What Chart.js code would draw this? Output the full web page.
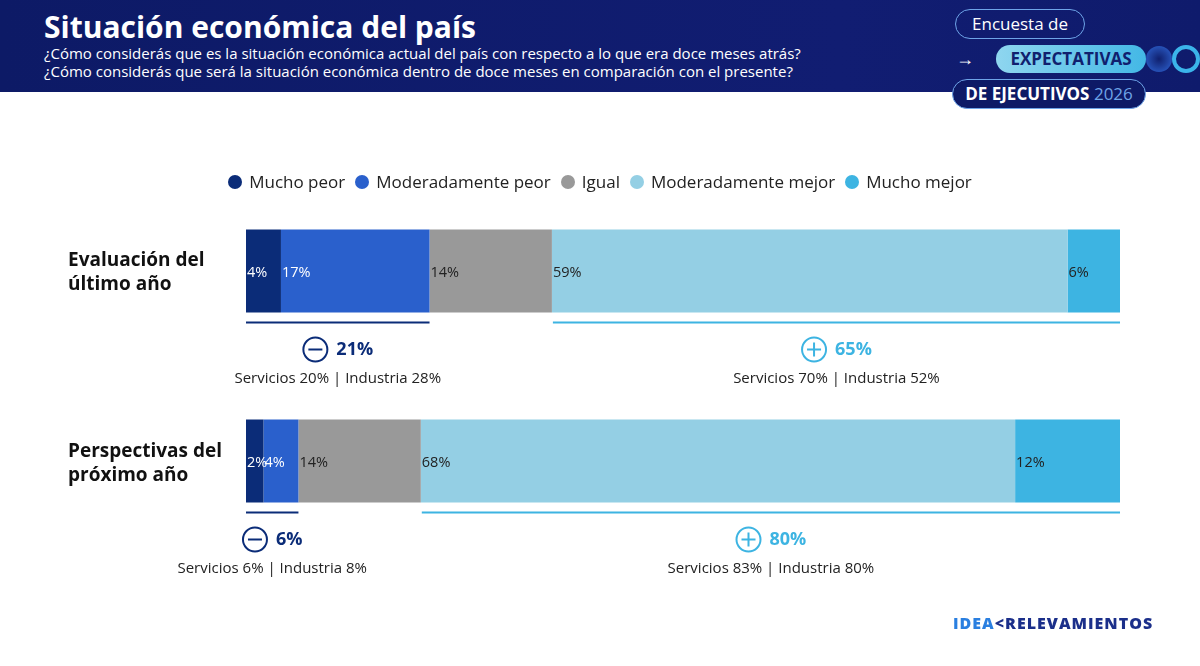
<!DOCTYPE html>
<html><head><meta charset="utf-8">
<script src="https://cdn.jsdelivr.net/npm/chart.js@4"></script>
<style>
body{margin:0;width:1200px;height:666px;overflow:hidden;font-family:"Open Sans",sans-serif;background:#fff;position:relative}
#hdr{position:absolute;left:0;top:0;width:1200px;height:92px;background:linear-gradient(90deg,#0d1a66,#111d72 70%,#0f1b6c);color:#fff}
#hdr h1{position:absolute;left:44px;top:6px;margin:0;font-size:30px;font-weight:700}
#hdr .q{position:absolute;left:44px;font-size:15px}
.pill{position:absolute;border-radius:16px;font-weight:700;text-align:center}
#legend{position:absolute;top:170px;left:0;width:1200px;text-align:center;font-size:17px;color:#222}
#legend span{margin:0 5px;display:inline-flex;align-items:center}
#legend i{display:inline-block;width:14px;height:14px;border-radius:50%;margin-right:7px}
.rl{position:absolute;left:68px;font-size:19px;font-weight:700;color:#111;line-height:24px}
canvas{position:absolute;left:0;top:0}
</style></head><body>
<div id="hdr">
<h1>Situación económica del país</h1>
<div class="q" style="top:43px">¿Cómo considerás que es la situación económica actual del país con respecto a lo que era doce meses atrás?</div>
<div class="q" style="top:61px">¿Cómo considerás que será la situación económica dentro de doce meses en comparación con el presente?</div>
<div class="pill" style="left:955px;top:9px;width:128px;height:28px;border:1.5px solid #6ea4e8;font-weight:400;font-size:17px;line-height:28px">Encuesta de</div>
<div style="position:absolute;left:956px;top:46px;font-size:18px">→</div>
<div class="pill" style="left:996px;top:45px;width:150px;height:28px;background:linear-gradient(90deg,#8fd6ef,#43b8e6);color:#10206e;font-size:17px;line-height:28px">EXPECTATIVAS</div>
<div style="position:absolute;left:1146px;top:46px;width:26px;height:26px;border-radius:50%;background:radial-gradient(#10206e,#2f66d6)"></div>
<div style="position:absolute;left:1172px;top:45px;width:20px;height:20px;border-radius:50%;border:4px solid #3bb4ea"></div>
<div class="pill" style="left:952px;top:79px;width:192px;height:28px;border:1.5px solid #6ea4e8;background:#0e1a66;font-size:17px;line-height:28px">DE EJECUTIVOS <span style="color:#6ea4e8;font-weight:400">2026</span></div>
</div>
<canvas id="c" width="1200" height="666"></canvas>
<div id="legend"></div>
<div class="rl" style="top:247px">Evaluación del<br>último año</div>
<div class="rl" style="top:438px">Perspectivas del<br>próximo año</div>
<div style="position:absolute;left:953px;top:612px;font-size:16px;font-weight:900;letter-spacing:1px;color:#1b2f8a"><span style="color:#2a7fe0">IDEA</span>&lt;RELEVAMIENTOS</div>
<script>
const categories=["Evaluación del último año","Perspectivas del próximo año"];
const seriesNames=["Mucho peor","Moderadamente peor","Igual","Moderadamente mejor","Mucho mejor"];
const muchoPeor=[4,2];
const moderadamentePeor=[17,4];
const igual=[14,14];
const moderadamenteMejor=[59,68];
const muchoMejor=[6,12];
const negTotal=[21,6];
const posTotal=[65,80];
const negSub=["Servicios 20% | Industria 28%","Servicios 6% | Industria 8%"];
const posSub=["Servicios 70% | Industria 52%","Servicios 83% | Industria 80%"];
const colors=["#0b2c78","#2a60cc","#999999","#94cfe4","#3db4e2"];
const txtColors=["#fff","#fff","#222","#222","#222"];
const vals=[muchoPeor,moderadamentePeor,igual,moderadamenteMejor,muchoMejor];
document.getElementById('legend').innerHTML=seriesNames.map((n,i)=>`<span><i style="background:${colors[i]}"></i>${n}</span>`).join('');
const plug={id:'lab',afterDatasetsDraw(ch){
 const ctx=ch.ctx,xs=ch.scales.x;
 ctx.save();ctx.font='14.5px "Open Sans"';ctx.textBaseline='middle';
 ch.data.datasets.forEach((d,di)=>{ch.getDatasetMeta(di).data.forEach((b,i)=>{
  ctx.fillStyle=txtColors[di];ctx.textAlign='left';
  ctx.fillText(d.data[i]+'%',Math.min(b.base,b.x)+1,b.y+2);});});
 ch.getDatasetMeta(0).data.forEach((b,i)=>{
  const bot=b.y+b.height/2;
  const n1=xs.getPixelForValue(0),n2=xs.getPixelForValue(muchoPeor[i]+moderadamentePeor[i]);
  const p1=xs.getPixelForValue(100-posTotal[i]),p2=xs.getPixelForValue(100);
  const grp=[[n1,n2,'#0b2c78',negTotal[i],negSub[i],'−'],[p1+1,p2,'#3db4e2',posTotal[i],posSub[i],'+']];
  grp.forEach(([a,c,col,t,s,sg])=>{
   ctx.strokeStyle=col;ctx.lineWidth=2;ctx.beginPath();ctx.moveTo(a,bot+10);ctx.lineTo(c,bot+10);ctx.stroke();
   const cx=(a+c)/2, iy=bot+37;
   ctx.font='bold 18px "Open Sans"';const tw=ctx.measureText(t+'%').width;
   const tot=26+8+tw, sx=cx-tot/2;
   ctx.beginPath();ctx.arc(sx+13,iy,12,0,Math.PI*2);ctx.stroke();
   ctx.beginPath();ctx.moveTo(sx+6,iy);ctx.lineTo(sx+20,iy);
   if(sg=='+'){ctx.moveTo(sx+13,iy-7);ctx.lineTo(sx+13,iy+7);}ctx.stroke();
   ctx.fillStyle=col;ctx.textAlign='left';ctx.fillText(t+'%',sx+34,iy);
   ctx.font='15px "Open Sans"';ctx.fillStyle='#222';ctx.textAlign='center';ctx.fillText(s,cx,bot+66);
  });
 });
 ctx.restore();}};
new Chart(document.getElementById('c'),{type:'bar',
 data:{labels:categories,datasets:seriesNames.map((n,i)=>({label:n,data:vals[i],backgroundColor:colors[i],borderWidth:0}))},
 options:{indexAxis:'y',responsive:false,animation:false,
  layout:{padding:{left:246,right:80,top:176,bottom:110}},
  datasets:{bar:{categoryPercentage:1,barPercentage:83/190}},
  plugins:{legend:{display:false},tooltip:{enabled:false}},
  scales:{x:{stacked:true,min:0,max:100,display:false},y:{stacked:true,display:false}}},
 plugins:[plug]});
</script></body></html>
